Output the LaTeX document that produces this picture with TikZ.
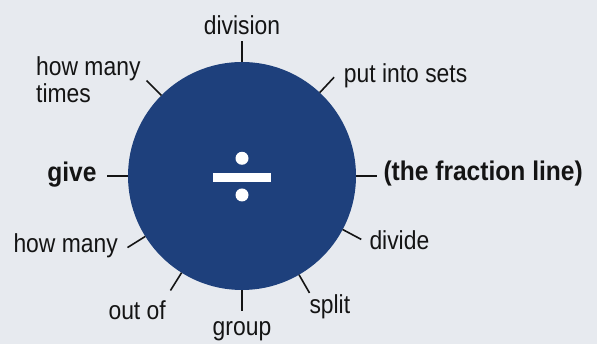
\documentclass[tikz,border=0pt]{standalone}
\usepackage{fontspec}
\usetikzlibrary{calc}
\setmainfont{Liberation Sans}[FakeStretch=0.88, BoldFeatures={FakeStretch=0.91}]
\definecolor{bg}{RGB}{231,234,239}
\definecolor{disc}{RGB}{30,64,124}
\definecolor{ink}{RGB}{20,20,20}
\tikzset{
  lbl/.style={inner sep=0pt, text=ink, font=\fontsize{26}{27}\selectfont},
  blbl/.style={inner sep=0pt, text=ink, font=\fontsize{27}{28}\selectfont\bfseries},
  tick/.style={draw=ink, line width=1.6pt}
}
\begin{document}
\begin{tikzpicture}[x=1pt,y=1pt]
\fill[bg] (0,0) rectangle (597,344);
\useasboundingbox (0,0) rectangle (597,344);
\node[circle, fill=disc, minimum size=228pt, inner sep=0pt] (c) at (242,168) {};
% division sign
\fill[white] (213.3,162.3) rectangle (270.7,171.3);
\fill[white] (242,185.7) circle (6.5);
\fill[white] (242,149) circle (6.5);
% ticks
\foreach \a/\n in {90/a,47/b,0/d,332/e,300/f,270/g,238/h,212/i,180/j,135/k}{
  \coordinate (s\n) at ($(c)+(\a:114)$);
  \coordinate (e\n) at ($(c)+(\a:135)$);
  \draw[tick] (s\n) -- (e\n);
}
% labels
\node[lbl, anchor=base] (division) at (242,309.7) {division};
\node[lbl, anchor=base west] (sets) at (343.7,261.7) {put into sets};
\node[lbl, anchor=base west] (times) at (36,268.3) {\begin{tabular}[t]{@{}l@{}}how many\\ times\end{tabular}};
\node[blbl, anchor=base east] (give) at (96.7,162.3) {give};
\node[blbl, anchor=base west] (frac) at (383.3,163.5) {(the fraction line)};
\node[lbl, anchor=base east] (howmany) at (118,91) {how many};
\node[lbl, anchor=base east] (outof) at (166,24.7) {out of};
\node[lbl, anchor=base] (group) at (242,8.7) {group};
\node[lbl, anchor=base west] (split) at (309.3,30.3) {split};
\node[lbl, anchor=base west] (divide) at (369.3,94.7) {divide};
\end{tikzpicture}
\end{document}
